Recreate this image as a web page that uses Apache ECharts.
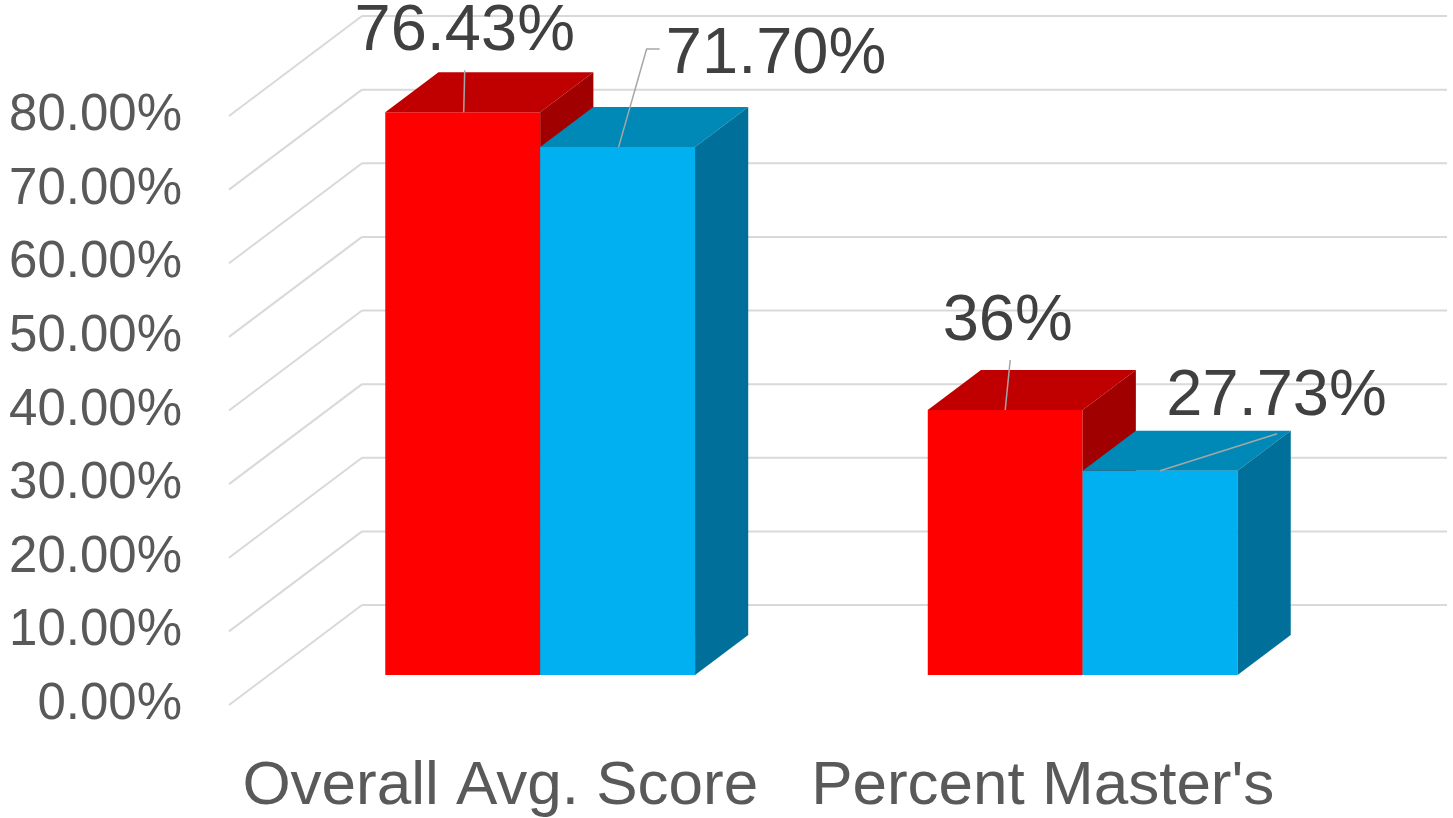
<!DOCTYPE html>
<html>
<head>
<meta charset="utf-8">
<script src="https://cdn.jsdelivr.net/npm/echarts@6/dist/echarts.min.js"></script>
<style>
  html, body { margin: 0; padding: 0; background: #fff; }
  #chart { width: 1453px; height: 818px; }
</style>
</head>
<body>
<div id="chart"></div>
<script>
// data
var categories = ['Overall Avg. Score', "Percent Master's"];
var redValues = [0.7643, 0.36];
var blueValues = [0.7170, 0.2773];
var redLabels = ['76.43%', '36%'];
var blueLabels = ['71.70%', '27.73%'];
var yTicks = [0, 0.1, 0.2, 0.3, 0.4, 0.5, 0.6, 0.7, 0.8];

// 3d look: depth of the whole floor, bars sit between 30% and 70% of it
var DEPTH = [133, -100];
var BAR_NEAR = 0.3, BAR_FAR = 0.7;
var BAR_W = 0.2855; // of the band

// label offsets from the top-front centre of each bar + leader points
var labelPos = [
  [ { dx: 2, dy: -80, line: [[1, 0], [2, -42]] },
    { dx: 2.5, dy: -88, line: [[0, 0], [5, -50]] } ],
  [ { dx: 158.5, dy: -92, line: [[1, 0], [29, -98], [42, -98]] },
    { dx: 116.5, dy: -74, line: [[0, 0], [117, -37]] } ]
];

var faceColors = [
  { front: '#FF0000', top: '#C00000', side: '#A00000' },
  { front: '#00B0F0', top: '#0088B6', side: '#00709A' }
];

var myChart = echarts.init(document.getElementById('chart'));

// back wall + side wall lines
function renderGrid(params, api) {
  var t = api.value(1);
  var p = api.coord([0, t]);
  var rect = params.coordSys;
  var x0 = rect.x, x1 = rect.x + rect.width;
  var lineStyle = { stroke: '#D9D9D9', lineWidth: 2, fill: null };
  return {
    type: 'group',
    children: [
      { type: 'line', shape: { x1: x0, y1: p[1], x2: x0 + DEPTH[0], y2: p[1] + DEPTH[1] }, style: lineStyle },
      { type: 'line', shape: { x1: x0 + DEPTH[0], y1: p[1] + DEPTH[1], x2: x1 + DEPTH[0], y2: p[1] + DEPTH[1] }, style: lineStyle }
    ]
  };
}

function makeBar(sIdx, labels) {
  return function (params, api) {
    var i = api.value(0), v = api.value(1);
    var base = api.coord([i, 0]);
    var top = api.coord([i, v]);
    var band = api.size([1, 0])[0];
    var w = band * BAR_W;
    var nx = DEPTH[0] * BAR_NEAR, ny = DEPTH[1] * BAR_NEAR;
    var dx = DEPTH[0] * (BAR_FAR - BAR_NEAR), dy = DEPTH[1] * (BAR_FAR - BAR_NEAR);
    var cx = base[0] + nx;
    var x0 = sIdx === 0 ? cx - w : cx;
    var x1 = x0 + w;
    var yb = base[1] + ny, yt = top[1] + ny;
    var c = faceColors[sIdx];
    var ax = (x0 + x1) / 2, ay = yt;
    var lp = labelPos[sIdx][i];
    var pts = lp.line.map(function (q) { return [ax + q[0], ay + q[1]]; });
    return {
      type: 'group',
      children: [
        { type: 'rect', shape: { x: x0, y: yt, width: w, height: yb - yt }, style: { fill: c.front } },
        { type: 'polygon', shape: { points: [[x0, yt], [x0 + dx, yt + dy], [x1 + dx, yt + dy], [x1, yt]] }, style: { fill: c.top } },
        { type: 'polygon', shape: { points: [[x1, yt], [x1 + dx, yt + dy], [x1 + dx, yb + dy], [x1, yb]] }, style: { fill: c.side } },
        { type: 'polyline', shape: { points: pts }, style: { stroke: '#A6A6A6', lineWidth: 1.5, fill: null }, z2: 10 },
        { type: 'text', z2: 10, style: {
            text: labels[i], x: ax + lp.dx, y: ay + lp.dy,
            align: 'center', verticalAlign: 'middle',
            fontSize: 65, fontFamily: 'Liberation Sans', fill: '#404040'
        } }
      ]
    };
  };
}

myChart.setOption({
  backgroundColor: '#ffffff',
  animation: false,
  grid: { left: 229, right: 139, top: 116, bottom: 113 },
  xAxis: {
    type: 'category',
    data: categories,
    axisLine: { show: false },
    axisTick: { show: false },
    axisLabel: { interval: 0, hideOverlap: false, fontSize: 62, fontFamily: 'Liberation Sans', color: '#595959', margin: 51 }
  },
  yAxis: {
    type: 'value',
    min: 0, max: 0.8, interval: 0.1,
    axisLine: { show: false },
    axisTick: { show: false },
    splitLine: { show: false },
    axisLabel: {
      fontSize: 51, fontFamily: 'Liberation Sans', color: '#595959', margin: 47,
      padding: [6, 0, 0, 0],
      formatter: function (v) { return (v * 100).toFixed(2) + '%'; }
    }
  },
  series: [
    {
      type: 'custom', name: 'grid', silent: true, z: 1,
      renderItem: renderGrid,
      data: yTicks.map(function (t) { return [0, t]; })
    },
    {
      type: 'custom', name: 'red', z: 2,
      renderItem: makeBar(0, redLabels),
      data: redValues.map(function (v, i) { return [i, v]; })
    },
    {
      type: 'custom', name: 'blue', z: 3,
      renderItem: makeBar(1, blueLabels),
      data: blueValues.map(function (v, i) { return [i, v]; })
    }
  ]
});
</script>
</body>
</html>
